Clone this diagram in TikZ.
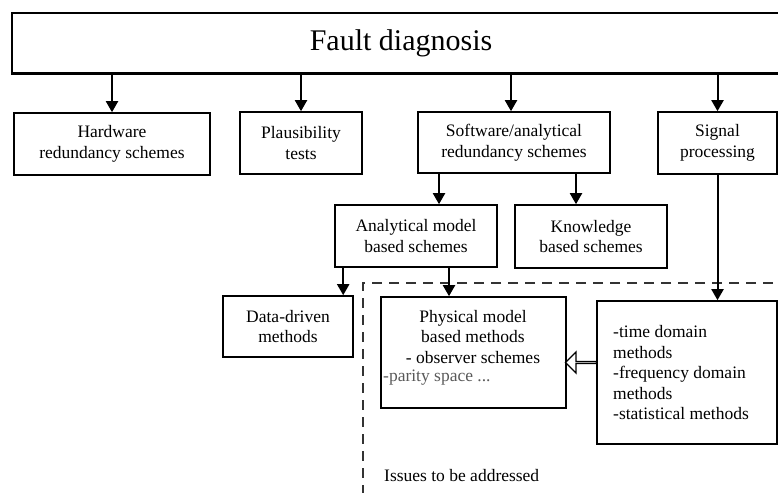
\documentclass[tikz,border=0pt]{standalone}
\usepackage{fontspec}
\setmainfont{Liberation Serif}
\usepackage{tikz}
\usetikzlibrary{arrows.meta,shapes.arrows,calc}
\colorlet{faded}{black!65}
\tikzstyle{block} = [draw,line width=1.6pt,inner sep=0pt,align=center,font=\fontsize{17.5}{20.5}\selectfont]
\tikzstyle{txt} = [inner sep=0pt,font=\fontsize{17.5}{20.5}\selectfont]
\tikzstyle{flow arrow} = [line width=2pt,-{Triangle[width=12pt,length=11pt]}]
\tikzstyle{issues frame} = [line width=1.5pt,black!80,dash pattern=on 10pt off 7pt]
\tikzstyle{hollow arrow} = [single arrow,draw,fill=white,line width=1.3pt,inner sep=0pt,minimum height=31pt,minimum width=21pt,single arrow head extend=6.5pt,single arrow head indent=0pt,shape border rotate=180]

\begin{document}
\begin{tikzpicture}[x=1pt,y=-1pt]
        \useasboundingbox (0,0) rectangle (778,492);

        \node[block,minimum width=778pt,minimum height=60pt,font=\fontsize{30}{34}\selectfont] (fault) at (401,43) {Fault diagnosis};
        \draw[line width=3pt] (fault.south west) -- (fault.south east);

        \node[block,minimum width=196pt,minimum height=62pt] (hw) at (112,144) {Hardware\\redundancy schemes};
        \node[block,minimum width=122pt,minimum height=62pt] (plaus) at (301,143) {Plausibility\\tests};
        \node[block,minimum width=192pt,minimum height=61pt] (soft) at (514,142.5) {Software/analytical\\redundancy schemes};
        \node[block,minimum width=119pt,minimum height=62pt] (sig) at (717.5,143) {Signal\\processing};

        \node[block,minimum width=162pt,minimum height=62pt] (anal) at (416,236) {Analytical model\\based schemes};
        \node[block,minimum width=152pt,minimum height=63pt] (know) at (591,236.5) {Knowledge\\based schemes};

        \node[block,minimum width=130pt,minimum height=61pt] (data) at (288,326.5) {Data-driven\\methods};
        \node[block,minimum width=185pt,minimum height=111pt] (phys) at (473.5,352.5) {};
        \node[block,minimum width=180pt,minimum height=143pt] (stat) at (687,372.5) {};

        % texts inside the two method boxes
        \node[txt,align=center] (physT) at (473,337) {Physical model\\based methods\\- observer schemes};
        \node[txt,anchor=west,text=faded] (physL) at (383,378) {-parity space ...};
        \node[txt,align=left,anchor=west] (statT) at (613,373) {-time domain\\methods\\-frequency domain\\methods\\-statistical methods};

        % issues frame
        \coordinate (corner) at (363,283);
        \draw[issues frame] (790,283) -- (corner) -- (363,500);
        \node[txt,anchor=west] (issues) at (384,476) {Issues to be addressed};

        \draw[flow arrow] (fault.south -| hw.north) to (hw.north);
        \draw[flow arrow] (fault.south -| plaus.north) to (plaus.north);
        \draw[flow arrow] ([xshift=-3pt]fault.south -| soft.north) to ([xshift=-3pt]soft.north);
        \draw[flow arrow] (fault.south -| sig.north) to (sig.north);

        \draw[flow arrow] ([xshift=23pt]anal.north |- soft.south) to ([xshift=23pt]anal.north);
        \draw[flow arrow] ([xshift=-15pt]know.north |- soft.south) to ([xshift=-15pt]know.north);

        \draw[flow arrow] ([xshift=9pt]anal.south west) to ([xshift=9pt]anal.south west |- data.north);
        \draw[flow arrow] ([xshift=33pt]anal.south) to ([xshift=33pt]anal.south |- phys.north);
        \draw[flow arrow] (sig.south) to (sig.south |- stat.north);

        \node[hollow arrow] (feed) at ($(phys.east)!.5!(stat.west)$) {};
\end{tikzpicture}
\end{document}
